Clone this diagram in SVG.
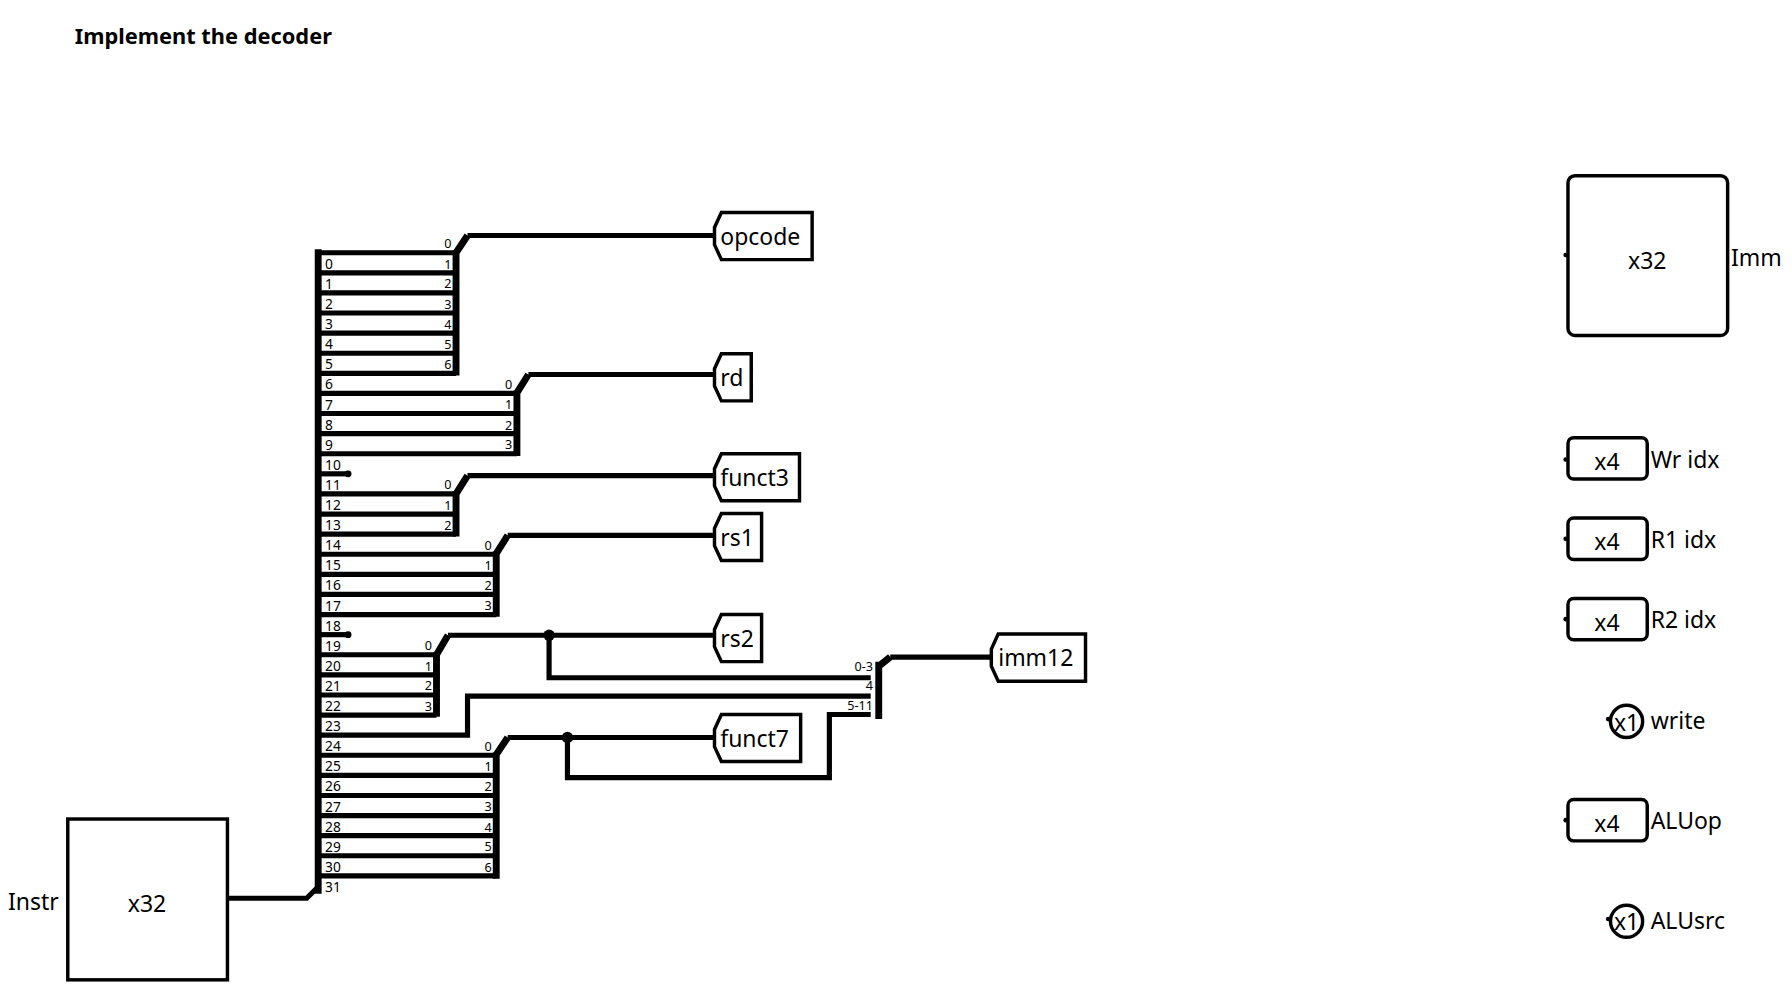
<svg xmlns="http://www.w3.org/2000/svg" width="1792" height="984" viewBox="0 0 1792 984">
<style>
text{font-family:"Noto Sans","DejaVu Sans",sans-serif;fill:#000}
.t{font-size:20px}
.s{font-size:12px}
.m{font-size:11px;text-anchor:end}
.w{fill:none;stroke:#000;stroke-width:4.5;stroke-linejoin:miter}
.b{fill:none;stroke:#000;stroke-width:6}
.box{fill:#fff;stroke:#000;stroke-width:3}
</style>
<rect width="1792" height="984" fill="#fff"/>
<g transform="scale(1.1487)">
<text x="65" y="38" style="font-size:19px;font-weight:bold">Implement the decoder</text>
<g id="connectors">
<path class="w" d="M198,782H267L277,772"/>
<path class="b" d="M277,217V778"/>
<path class="w" d="M277,220H397M277,237.5H397M277,255H397M277,272.5H397M277,290H397M277,307.5H397M277,325H397"/>
<path class="b" d="M397,218V327M397,220L407,205"/>
<path class="w" d="M407,205H622"/>
<path class="w" d="M277,342.5H450M277,360H450M277,377.5H450M277,395H450"/>
<path class="b" d="M450,340V397M450,342L460,326"/>
<path class="w" d="M460,326H622"/>
<path class="w" d="M277,412.5H303"/><circle cx="303" cy="412.5" r="3"/>
<path class="w" d="M277,430H397M277,447.5H397M277,465H397"/>
<path class="b" d="M397,428V467M397,430L407,414"/>
<path class="w" d="M407,414H622"/>
<path class="w" d="M277,482.5H432M277,500H432M277,517.5H432M277,535H432"/>
<path class="b" d="M432,480V537M432,482L442,466"/>
<path class="w" d="M442,466H622"/>
<path class="w" d="M277,552.5H303"/><circle cx="303" cy="552.5" r="3"/>
<path class="w" d="M277,570H380M277,587.5H380M277,605H380M277,622.5H380"/>
<path class="b" d="M380,568V624M380,570L390,553"/>
<path class="w" d="M390,553H622M478,553V590H758"/>
<circle cx="478" cy="553" r="5"/>
<path class="w" d="M277,640H407V606H758"/>
<path class="w" d="M277,657.5H432M277,675H432M277,692.5H432M277,710H432M277,727.5H432M277,745H432M277,762.5H432"/>
<path class="b" d="M432,655V765M432,657L442,642"/>
<path class="w" d="M442,642H622M494,642V677H722V622H758"/>
<circle cx="494" cy="642" r="5"/>
<path class="b" d="M765,576V626M765,580L775,572"/>
<path class="w" d="M775,572H863"/>
</g>
<g id="splitter-labels" class="s">
<text x="283" y="234">0</text><text x="283" y="251.5">1</text><text x="283" y="269">2</text><text x="283" y="286.5">3</text><text x="283" y="304">4</text><text x="283" y="321.5">5</text><text x="283" y="339">6</text><text x="283" y="356.5">7</text><text x="283" y="374">8</text><text x="283" y="391.5">9</text><text x="283" y="409">10</text><text x="283" y="426.5">11</text><text x="283" y="444">12</text><text x="283" y="461.5">13</text><text x="283" y="479">14</text><text x="283" y="496.5">15</text><text x="283" y="514">16</text><text x="283" y="531.5">17</text><text x="283" y="549">18</text><text x="283" y="566.5">19</text><text x="283" y="584">20</text><text x="283" y="601.5">21</text><text x="283" y="619">22</text><text x="283" y="636.5">23</text><text x="283" y="654">24</text><text x="283" y="671.5">25</text><text x="283" y="689">26</text><text x="283" y="706.5">27</text><text x="283" y="724">28</text><text x="283" y="741.5">29</text><text x="283" y="759">30</text><text x="283" y="776.5">31</text>
</g>
<g id="merger-labels" class="m">
<text x="393" y="216">0</text><text x="393" y="234">1</text><text x="393" y="251">2</text><text x="393" y="269">3</text><text x="393" y="286">4</text><text x="393" y="304">5</text><text x="393" y="321">6</text>
<text x="446" y="339">0</text><text x="446" y="356">1</text><text x="446" y="374">2</text><text x="446" y="391">3</text>
<text x="393" y="426">0</text><text x="393" y="444">1</text><text x="393" y="461">2</text>
<text x="428" y="479">0</text><text x="428" y="496">1</text><text x="428" y="514">2</text><text x="428" y="531">3</text>
<text x="376" y="566">0</text><text x="376" y="584">1</text><text x="376" y="601">2</text><text x="376" y="619">3</text>
<text x="428" y="654">0</text><text x="428" y="671">1</text><text x="428" y="689">2</text><text x="428" y="706">3</text><text x="428" y="724">4</text><text x="428" y="741">5</text><text x="428" y="759">6</text>
<text x="760" y="584">0-3</text><text x="760" y="601">4</text><text x="760" y="618">5-11</text>
</g>
<g id="instr"><rect class="box" x="59" y="713" width="139" height="140"/><text class="t" x="128" y="794" text-anchor="middle">x32</text><text class="t" x="7" y="792">Instr</text></g>
<g id="opcode"><path class="box" d="M628,185H707V226H628L622,213V198Z"/><text class="t" x="627" y="213">opcode</text></g>
<g id="rd"><path class="box" d="M628,308H654V349H628L622,336V321Z"/><text class="t" x="627" y="336">rd</text></g>
<g id="funct3"><path class="box" d="M628,395H696V436H628L622,423V408Z"/><text class="t" x="627" y="423">funct3</text></g>
<g id="rs1"><path class="box" d="M628,447H663V488H628L622,475V460Z"/><text class="t" x="627" y="475">rs1</text></g>
<g id="rs2"><path class="box" d="M628,535H663V576H628L622,563V548Z"/><text class="t" x="627" y="563">rs2</text></g>
<g id="funct7"><path class="box" d="M628,622H697V663H628L622,650V635Z"/><text class="t" x="627" y="650">funct7</text></g>
<g id="imm12"><path class="box" d="M869,552H945V593H869L863,580V565Z"/><text class="t" x="869" y="580">imm12</text></g>
<g transform="translate(-6,0)">
<g id="imm"><rect class="box" x="1371" y="153" width="139" height="139" rx="6"/><circle cx="1369" cy="222" r="2"/><text class="t" x="1440" y="234" text-anchor="middle">x32</text><text class="t" x="1513" y="232">Imm</text></g>
<g id="wridx"><rect class="box" x="1371" y="381" width="69" height="36" rx="5"/><circle cx="1369" cy="400" r="2"/><text class="t" x="1405" y="409" text-anchor="middle">x4</text><text class="t" x="1443" y="407">Wr idx</text></g>
<g id="r1idx"><rect class="box" x="1371" y="451" width="69" height="36" rx="5"/><circle cx="1369" cy="469" r="2"/><text class="t" x="1405" y="479" text-anchor="middle">x4</text><text class="t" x="1443" y="477">R1 idx</text></g>
<g id="r2idx"><rect class="box" x="1371" y="521" width="69" height="36" rx="5"/><circle cx="1369" cy="539" r="2"/><text class="t" x="1405" y="549" text-anchor="middle">x4</text><text class="t" x="1443" y="547">R2 idx</text></g>
<g id="write"><circle class="box" cx="1422" cy="628" r="14"/><circle cx="1406" cy="626" r="2"/><text class="t" x="1422" y="636" text-anchor="middle">x1</text><text class="t" x="1443" y="635">write</text></g>
<g id="aluop"><rect class="box" x="1371" y="696" width="69" height="36" rx="5"/><circle cx="1369" cy="714" r="2"/><text class="t" x="1405" y="724" text-anchor="middle">x4</text><text class="t" x="1443" y="722">ALUop</text></g>
<g id="alusrc"><circle class="box" cx="1422" cy="802" r="14"/><circle cx="1406" cy="800" r="2"/><text class="t" x="1422" y="810" text-anchor="middle">x1</text><text class="t" x="1443" y="809">ALUsrc</text></g>
</g>
</g>
</svg>
